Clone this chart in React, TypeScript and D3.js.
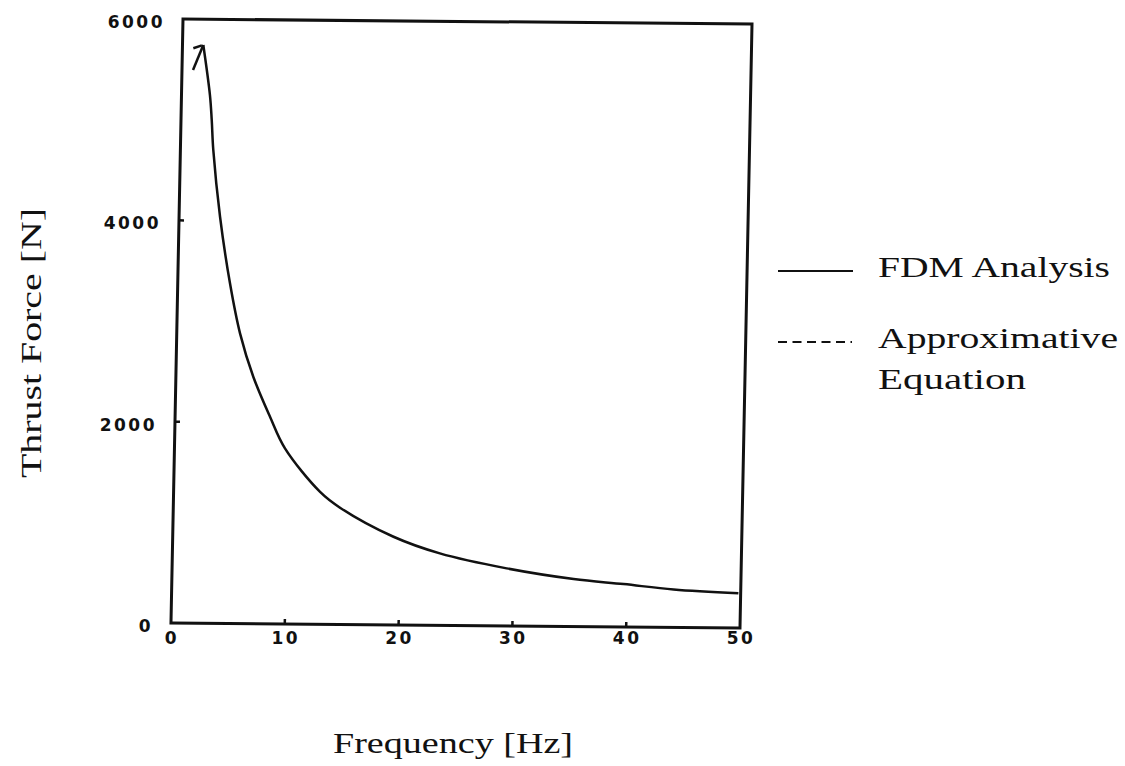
import React from "react";
import * as d3 from "d3";

// ---- data ----
const freqHz = [0.97, 1.83, 2.5, 2.7, 2.89, 3.6, 4.59, 5.56, 6.8, 8.34, 9.71, 12.87, 14.65, 19.4, 23.5, 29.4, 35.3, 39.7, 44.1, 49.8];
const fdmForce = [5494, 5744, 5247, 5000, 4702, 4039, 3379, 2883, 2453, 2057, 1744, 1315, 1160, 876, 715, 572, 472, 426, 377, 344];
const approxFreq = [0.96, 1.83];
const approxForce = [5710, 5744];
const xTickValues = [0, 10, 20, 30, 40, 50];
const yTickValues = [0, 2000, 4000, 6000];
const legendLabels = ["FDM Analysis", "Approximative", "Equation"];
const xTitle = "Frequency [Hz]";
const yTitle = "Thrust Force [N]";

// plot frame geometry (the scanned frame is slightly sheared)
const W = 569;
const H = 604;
const OX = 183;
const OY = 19;
const SB = 0.0088; // y shift per x
const SC = -0.0199; // x shift per y
const aff = (x: number, y: number): [number, number] => [OX + x + SC * y, OY + SB * x + y];

export default function App() {
  const xScale = d3.scaleLinear().domain([0, 50]).range([0, W]);
  const yScale = d3.scaleLinear().domain([0, 6000]).range([H, 0]);

  const fdmPts: [number, number][] = freqHz.map((f, i) => [xScale(f), yScale(fdmForce[i])]);
  const apxPts: [number, number][] = approxFreq.map((f, i) => [xScale(f), yScale(approxForce[i])]);

  const linear = d3.line().curve(d3.curveLinear);
  const smooth = d3.line().curve(d3.curveCatmullRom.alpha(0.5));

  const ink = "#111";
  const serif = "'Liberation Serif', 'DejaVu Serif', serif";
  const digits = "'DejaVu Sans', sans-serif";

  return (
    <svg
      width={1125}
      height={766}
      viewBox="0 0 1125 766"
      style={{ position: "absolute", left: 0, top: 0, display: "block", background: "#fff" }}
    >
      <rect x={0} y={0} width={1125} height={766} fill="#fff" />
      <g transform={`matrix(1, ${SB}, ${SC}, 1, ${OX}, ${OY})`}>
        <rect x={0} y={0} width={W} height={H} fill="none" stroke={ink} strokeWidth={3} />
        {xTickValues.slice(1, -1).map((v) => (
          <line key={"xt" + v} x1={xScale(v)} x2={xScale(v)} y1={H} y2={H - 5} stroke={ink} strokeWidth={2.5} />
        ))}
        {yTickValues.slice(1, -1).map((v) => (
          <line key={"yt" + v} x1={0} x2={5} y1={yScale(v)} y2={yScale(v)} stroke={ink} strokeWidth={2.5} />
        ))}
        <path d={linear(fdmPts.slice(0, 2)) || ""} fill="none" stroke={ink} strokeWidth={2.5} />
        <path d={smooth(fdmPts.slice(1)) || ""} fill="none" stroke={ink} strokeWidth={2.5} />
        <path d={linear(apxPts) || ""} fill="none" stroke={ink} strokeWidth={2.5} strokeDasharray="9,3" />
      </g>

      {/* x tick labels */}
      {xTickValues.map((v) => {
        const [px] = aff(xScale(v), H);
        return (
          <text key={"xl" + v} x={px + 1} y={644} textAnchor="middle" fontFamily={digits} fontWeight="bold" fontSize={17} letterSpacing={2.5} fill={ink}>
            {String(v)}
          </text>
        );
      })}
      {/* y tick labels */}
      {yTickValues.map((v) => {
        const [px, py] = aff(0, yScale(v));
        return (
          <text key={"yl" + v} x={px - 18} y={py + 9} textAnchor="end" fontFamily={digits} fontWeight="bold" fontSize={17} letterSpacing={2.5} fill={ink}>
            {String(v)}
          </text>
        );
      })}

      {/* axis titles */}
      <text x={333} y={753} fontFamily={serif} fontSize={30} textLength={240} lengthAdjust="spacingAndGlyphs" fill={ink}>
        {xTitle}
      </text>
      <text
        transform="translate(41, 478) rotate(-90)"
        x={0}
        y={0}
        fontFamily={serif}
        fontSize={30}
        textLength={270}
        lengthAdjust="spacingAndGlyphs"
        fill={ink}
      >
        {yTitle}
      </text>

      {/* legend */}
      <line x1={778} x2={853} y1={271} y2={271} stroke={ink} strokeWidth={2} />
      <text x={878} y={277} fontFamily={serif} fontSize={30} textLength={232} lengthAdjust="spacingAndGlyphs" fill={ink}>
        {legendLabels[0]}
      </text>
      <line x1={778} x2={852} y1={342} y2={342} stroke={ink} strokeWidth={2} strokeDasharray="9,5.5" />
      <text x={878} y={348} fontFamily={serif} fontSize={30} textLength={240} lengthAdjust="spacingAndGlyphs" fill={ink}>
        {legendLabels[1]}
      </text>
      <text x={878} y={389} fontFamily={serif} fontSize={30} textLength={148} lengthAdjust="spacingAndGlyphs" fill={ink}>
        {legendLabels[2]}
      </text>
    </svg>
  );
}
